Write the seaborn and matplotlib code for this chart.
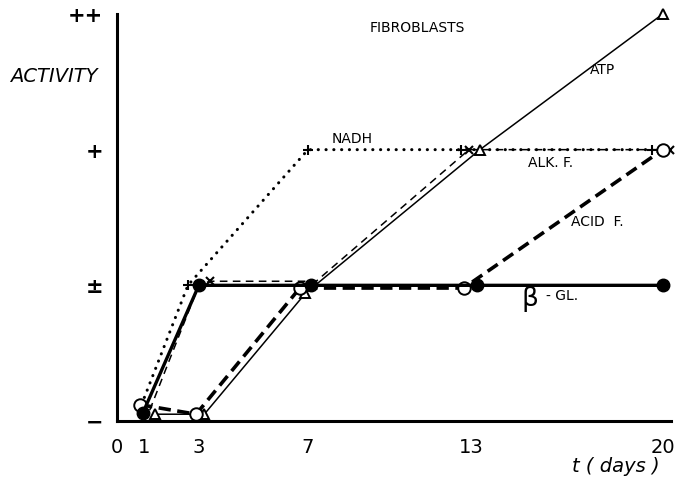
import matplotlib
matplotlib.use("Agg")
import matplotlib.pyplot as plt
import seaborn as sns

# days (x positions, slightly staggered as in the original)
nadh_t = [0.9, 2.6, 7.0, 12.6, 19.6]
nadh_v = [0.12, 1.0, 2.0, 2.0, 2.0]

alk_t = [1.2, 3.0, 3.4, 7.3, 12.9, 20.25]
alk_v = [0.08, 1.0, 1.03, 1.03, 2.0, 2.0]

atp_t = [1.4, 3.2, 6.9, 13.3, 20.0]
atp_v = [0.05, 0.05, 0.94, 2.0, 3.0]

bgl_t = [0.95, 3.0, 7.1, 13.2, 20.0]
bgl_v = [0.06, 1.0, 1.0, 1.0, 1.0]

acid_t = [0.85, 2.9, 6.7, 12.7, 20.0]
acid_v = [0.12, 0.05, 0.98, 0.98, 2.0]

x_ticks = [0, 1, 3, 7, 13, 20]
y_ticks = [0, 1, 2, 3]
y_labels = ["\u2212", "\u00b1", "+", "++"]

sns.set_style("white")
plt.rcParams['font.family'] = ['DejaVu Sans']
plt.rcParams['text.color'] = 'black'
plt.rcParams['xtick.color'] = 'black'
plt.rcParams['ytick.color'] = 'black'

fig = plt.figure(figsize=(6.75, 4.79), dpi=100)
ax = fig.add_axes([0.1733, 0.1211, 0.8207, 0.8497])

common = dict(ax=ax, color="black", sort=False, estimator=None, clip_on=False)

# NADH - dotted with + markers
sns.lineplot(x=nadh_t, y=nadh_v, linestyle=(0, (0.05, 2.5)), linewidth=2.2,
             dash_capstyle="round", marker="+", markersize=7, markeredgewidth=1.5,
             markeredgecolor="black", zorder=3, **common)
# ALK. F. - thin dashed with x markers
sns.lineplot(x=alk_t, y=alk_v, linestyle=(0, (5, 3.5)), linewidth=1.1,
             marker="x", markersize=6, markeredgewidth=1.5, markeredgecolor="black",
             markevery=[2, 4, 5], zorder=3, **common)
# ATP - thin solid with open triangles
sns.lineplot(x=atp_t, y=atp_v, linestyle="-", linewidth=1.1,
             marker="^", markersize=7, markerfacecolor="white", markeredgewidth=1.4,
             markeredgecolor="black", zorder=4, **common)
# beta-GL - thick solid with filled circles
sns.lineplot(x=bgl_t, y=bgl_v, linestyle="-", linewidth=2.4,
             marker="o", markersize=9, markerfacecolor="black", markeredgewidth=1,
             markeredgecolor="black", zorder=5, **common)
# ACID F. - thick dashed with open circles
sns.lineplot(x=acid_t, y=acid_v, linestyle=(0, (3.4, 1.8)), linewidth=2.6,
             marker="o", markersize=9, markerfacecolor="white", markeredgewidth=1.4,
             markeredgecolor="black", zorder=4, **common)

ax.set_xlim(0, 20.3)
ax.set_ylim(0, 3)
ax.set_xticks(x_ticks)
ax.set_xticklabels([str(t) for t in x_ticks], fontsize=14)
ax.set_yticks(y_ticks)
ax.set_yticklabels(y_labels, fontsize=15, fontweight="bold")
ax.tick_params(axis="x", length=0, pad=12)
ax.tick_params(axis="y", direction="inout", length=8, width=1.5, pad=6)

for side in ["top", "right"]:
    ax.spines[side].set_visible(False)
for side in ["left", "bottom"]:
    ax.spines[side].set_color("black")
    ax.spines[side].set_linewidth(2.2)

# curve labels
ax.text(8.6, 2.08, "NADH", fontsize=10, ha="center", va="center")
ax.text(15.9, 1.90, "ALK. F.", fontsize=10, ha="center", va="center")
ax.text(17.6, 1.47, "ACID  F.", fontsize=10, ha="center", va="center")
ax.text(17.8, 2.59, "ATP", fontsize=10, ha="center", va="center")
ax.text(15.15, 0.90, "\u03b2", fontsize=19, ha="center", va="center")
ax.text(16.3, 0.92, "- GL.", fontsize=10, ha="center", va="center")
ax.text(11.0, 2.90, "FIBROBLASTS", fontsize=10, ha="center", va="center")

fig.text(0.08, 0.841, "ACTIVITY", fontsize=14, style="italic", ha="center", va="center")
fig.text(0.912, 0.027, "t ( days )", fontsize=14, style="italic", ha="center", va="center")

fig.savefig("out.png", dpi=100)
